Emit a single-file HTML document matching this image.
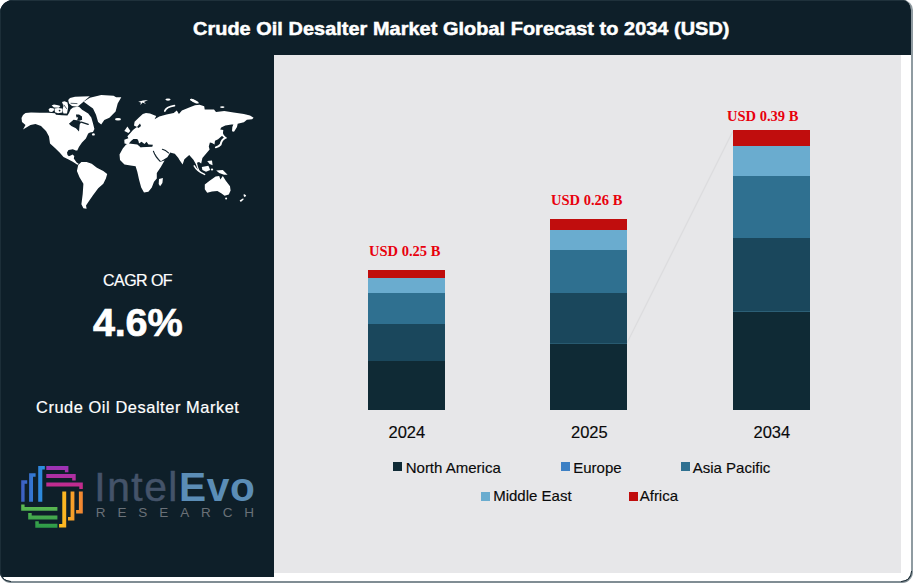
<!DOCTYPE html>
<html>
<head>
<meta charset="utf-8">
<title>Crude Oil Desalter Market Global Forecast to 2034 (USD)</title>
<style>
html,body{margin:0;padding:0;background:#fff;}
body{width:913px;height:583px;overflow:hidden;position:relative;font-family:"Liberation Sans",sans-serif;}
#card{position:absolute;left:0;top:0;width:911px;height:581px;background:#fff;border-radius:13px 10px 11px 11px;overflow:hidden;
  border-right:2px solid #8f9ba1;border-bottom:2px solid #808d94;}
.arc{position:absolute;width:10px;height:10px;box-sizing:border-box;}
#dark{position:absolute;left:0;top:0;width:274px;height:577px;background:#0e1f29;}
#head{position:absolute;left:0;top:0;width:911px;height:55px;background:#0e1f29;}
#plot{position:absolute;left:274px;top:55px;width:627px;height:518px;background:#e7e7e9;}
.abs{position:absolute;white-space:nowrap;}
#title{left:193.3px;top:17.2px;color:#fff;font-weight:bold;font-size:18.5px;line-height:24px;letter-spacing:0.05px;-webkit-text-stroke:0.5px #fff;transform-origin:0 0;transform:scaleX(1.0745);}
.seg{position:absolute;}
.val{position:absolute;white-space:nowrap;font-family:"Liberation Serif",serif;font-weight:bold;color:#e8000d;font-size:14.5px;line-height:16px;}
.yr{position:absolute;white-space:nowrap;color:#0a0a0a;-webkit-text-stroke:0.15px #0a0a0a;font-size:16.5px;line-height:18px;}
.lg{position:absolute;white-space:nowrap;color:#0a0a0a;font-size:15px;line-height:16px;-webkit-text-stroke:0.15px #0a0a0a;}
.sw{position:absolute;width:8.5px;height:8.5px;}
</style>
</head>
<body>
<div id="card">
  <div id="head"></div>
  <div id="dark"></div>
  <div id="plot"></div>
  <div class="abs" style="left:0;top:0;width:911px;height:1px;background:#1f313b"></div>
  <div class="abs" style="left:0;top:0;width:1px;height:577px;background:#1c2e38"></div>

  <div id="title" class="abs">Crude Oil Desalter Market Global Forecast to 2034 (USD)</div>


  <!-- world map -->
  <svg class="abs" id="map" style="left:0;top:0" width="274" height="230" viewBox="0 0 274 230">
    <g fill="#fff" stroke="none">
      <!-- North America -->
      <polygon points="21.5,118 23,115 25.5,113 31,112.6 40,112.8 48,112.8 55,113.2 56,114.8 62,115.2 67.4,115.4 69,113 70.5,109.5 73,107.5 77.4,106.7 79,106.7 82.1,109.8 88.2,113.6 91.3,117.5 92.9,122.9 94.4,129.1 93,132 90,132.5 88.2,133.5 85.9,138.5 82,142.4 78.9,147 77.3,150.5 75.8,150.5 72.8,149.3 68.5,150.1 67,152.4 67.5,155 68.9,156.3 71.2,155.2 72.5,154.5 74.3,156 73.8,158.4 76.6,162.4 78.9,164 77.4,164.7 72.8,161.7 68.1,159.3 63.5,157 59.6,152.4 55,148.1 50,143.5 49,136.5 46,131 41,126 35.5,124 30.5,125 23,129.5 25.5,125 22,122"/>
      <polygon points="48.5,109.5 50,108 53.5,108.2 54.3,110 52,112 49.5,111.8"/>
      <polygon points="51.6,105.5 54,104.6 58,105.2 60.4,106 59,107.8 54,107.6"/>
      <polygon points="54.5,108.4 58,107.9 62,108.6 62.4,112.4 58,113.3 55,112.2"/>
      <polygon points="62,102 64.5,101.3 67.5,102.5 68.2,107 67,113.4 63.5,113.6 62.3,110 63.5,106"/>
      <polygon points="68.2,100 70,98 75,96.8 82,96.4 89.8,96.2 86,99.5 82,103 79,105.5 77.4,106.7 72,106 69,103.5"/>
      <ellipse cx="93.4" cy="134.4" rx="1.4" ry="1.2"/>
      <!-- Greenland -->
      <polygon points="83.7,101.8 89.9,97.7 101.2,95.1 113.6,95.7 116.1,97.2 121.3,97.2 117.7,103.4 115.6,111.6 109.4,117.8 104.3,119.9 101.2,124.5 98.1,121.9 96,114.7 93,108.5 88.8,105.4"/>
      <!-- South America -->
      <polygon points="78.2,165.1 81.4,161.9 86.6,161.9 91.7,163.8 96.9,167.7 103.3,170.9 107.2,174.1 105.9,178.6 103.3,183.7 98.2,188.2 93,195.3 88.5,201.7 86,205.6 86.6,208.8 83.4,208.2 81.4,204.3 82.7,194 83.4,183.7 79.5,177.3 76.9,170.9"/>
      <!-- Eurasia -->
      <polygon points="124.5,143.4 124.3,139.8 128.4,138.3 127.4,136.2 130.4,133.1 133,130 135.5,128 137,127 134,125.4 134.6,121.8 138.7,117.7 142.8,114 146,113 150,113.5 156.2,116.1 154.6,119.2 159.3,116.6 166.5,114.6 173.7,113 176.8,110.4 178.9,114 181.9,110.4 189.2,107.4 195,105.3 199.6,104.8 204.2,106.3 204.7,109.4 214,109.4 216,112 224.3,111 233.6,112.5 243.9,114 250,115.6 253.6,117.7 252.1,119.2 246.9,119.7 243.9,122.3 237.7,123.8 237,127 234,131.8 232,131.2 232.3,127 233.4,124.6 231.5,124.4 225.3,125.4 221.2,127.4 220.2,129.5 223.3,130 222.7,135.2 218.1,139.3 215,140.8 214.5,144.4 212,143 209.9,142.4 208.8,146.5 209.6,149.6 206,153.8 202.4,158 201.2,163.4 199,162 197,162.8 198,167 200,171.8 198,170 195.8,164 193.4,159.8 189.2,155 184.4,159.2 182.6,164.6 179,159.2 178.4,158 174.8,153.8 170,152.5 169.6,153.4 167.4,157.3 160.5,161.5 153,151 140,147"/>
      <!-- Africa -->
      <polygon points="126.1,144.5 122.8,148.4 119.5,154.5 120,160.1 124.5,164.5 130.6,165.6 135.6,166.2 137.3,171.8 139,179.6 141.2,187.4 144,192.4 148.4,191.8 151.8,187.4 154,181.8 156.8,178.5 156.8,172.9 160.7,167.3 164.6,160.5 160.5,161.8 156,156 153,150 152.5,146.5 140.6,147.3 137.3,144.5 128.9,143.4"/>
      <!-- Madagascar -->
      <polygon points="159,179 162.9,177.9 162.4,182.9 160.1,186.3 158.7,184"/>
      <!-- UK, Iceland -->
      <polygon points="124.3,131 127.4,126.4 130.4,131 128.4,133.1"/>
      <ellipse cx="118" cy="119.3" rx="3" ry="1.3"/>
      <!-- Arctic islands -->
      <polygon points="138.2,101.8 143,100.6 148,100 144,102 146,104 142.5,102.5 140.5,105 140.8,102.4"/>
      <ellipse cx="168" cy="99.6" rx="2.6" ry="1.1"/>
      <ellipse cx="192.5" cy="100.2" rx="2.6" ry="1.1" transform="rotate(20 192.5 100.2)"/>
      <ellipse cx="194.5" cy="101.2" rx="4.6" ry="1.3" transform="rotate(25 194.5 101.2)"/>
      <ellipse cx="222.3" cy="107.1" rx="2.2" ry="0.9"/>
      <!-- Borneo, Philippines, New Guinea -->
      <polygon points="201.8,167 208.4,165.8 210.2,170 206,171.8 202.4,170"/>
      <polygon points="207.2,161 212,160.4 212.6,165.2 209.6,164"/>
      <polygon points="216.2,170.6 222.8,170 227.6,174.8 224,174.8 219.2,173"/>
      <ellipse cx="212" cy="169.5" rx="1.2" ry="0.9"/>
      <!-- Australia -->
      <polygon points="204.8,184.4 209.6,180.8 215.6,176.6 219.2,176 220.4,179.6 222.8,176 225.8,180.8 230,186.2 230.6,190.4 228.8,194.6 224.6,195.8 221.6,193.4 217.4,191 212,191.6 207.2,192.8 204.8,189.2"/>
      <ellipse cx="226.1" cy="198.5" rx="1" ry="1"/>
      <polygon points="243.8,194 246.2,195.2 245,197.2 243.6,196"/>
      <polygon points="239.6,200.6 243.2,198.2 243.6,199.4 240.8,202"/>
    </g>
    <g fill="none" stroke="#fff" stroke-linecap="round">
      <!-- Novaya Zemlya -->
      <path d="M164.8,111 Q166,107 174.4,105.6" stroke-width="1.8"/>
      <!-- Japan / Sakhalin -->
      <path d="M221.6,132.6 Q222.5,136 225.3,137.8 Q221.5,139.5 220.6,144.5 Q218.5,146.8 215.8,147.4" stroke-width="1.9"/>
      <!-- Sumatra / Java -->
      <path d="M194.2,165.8 Q197,171 204.6,174.4" stroke-width="1.5"/>
    </g>
    <g fill="#0e1f29" stroke="none">
      <!-- Hudson Bay -->
      <polygon points="68.9,123.7 73.6,119.8 78.2,120.6 81.3,122.1 79.7,124.4 79,131.4 75.9,128.3 71.3,126"/>
      <polygon points="75.9,114.6 79,114.4 82,116.5 82.1,119.8 79.5,120.8 77,120.6 78.2,117.2 76.5,117.5"/>
      <circle cx="59.6" cy="110.6" r="0.9"/>
      <!-- Mediterranean -->
      <polygon points="128.9,143.6 131,141 133.4,138.9 137.3,138.9 138.5,141 139,143.4 141.5,141.8 144.5,144 146.5,141.8 148.5,144.5 152.9,144.8 152.3,146.7 140.6,147.3 137.3,144.5"/>
      <!-- Baltic -->
      <polygon points="137,127 140,123.5 141,126 138.5,128"/>
    </g>
    <g fill="none" stroke="#0e1f29" stroke-linecap="round">
      <path d="M153.4,151.2 Q155.5,157.5 160.1,161.2" stroke-width="1.1"/>
      <path d="M162.4,149.3 Q165.5,150 168.5,152.8" stroke-width="1.1"/>
      <!-- arctic island channels -->
      <path d="M81.3,122.1 L88.2,124.4" stroke-width="1.4"/>
      <path d="M71,103.3 L77,103.6 M64,105 L66.5,108.5" stroke-width="0.7"/>
    </g>
  </svg>

  <!-- logo -->
  <svg class="abs" id="logo" style="left:0;top:455px" width="274" height="85" viewBox="0 455 274 85">
    <defs>
      <linearGradient id="gb" x1="0" y1="0" x2="1" y2="0"><stop offset="0" stop-color="#3e5ec2"/><stop offset="1" stop-color="#2a92e2"/></linearGradient>
      <linearGradient id="gp" x1="0" y1="0" x2="0" y2="1"><stop offset="0" stop-color="#9a34b8"/><stop offset="1" stop-color="#c92a86"/></linearGradient>
      <linearGradient id="go" x1="0" y1="0" x2="1" y2="0"><stop offset="0" stop-color="#ffc41e"/><stop offset="1" stop-color="#f08432"/></linearGradient>
      <linearGradient id="gg" x1="0" y1="0" x2="0" y2="1"><stop offset="0" stop-color="#5fba52"/><stop offset="1" stop-color="#2c9a48"/></linearGradient>
    </defs>
    <g fill="url(#gb)">
      <path d="M21.2,480.3 H27.2 V483.8 H24.6 V501.8 H21.2 Z M29.1,473.2 H35.6 V476.7 H33 V501.8 H29.1 Z M38.2,466 H44.8 V469.5 H42.3 V501.8 H38.2 Z"/>
    </g>
    <g fill="url(#gp)">
      <path d="M46.3,466 H68.4 V472.2 H64.9 V469.9 H46.3 Z M46.3,474.1 H75.7 V480.6 H72.2 V478 H46.3 Z M46.3,482.5 H82.8 V489 H79.3 V486.6 H46.3 Z"/>
    </g>
    <g fill="url(#go)">
      <path d="M62.3,491.5 H66.2 V527.5 H59.1 V524 H62.3 Z M70.6,491.5 H74.4 V520.5 H68 V517 H70.6 Z M78.9,491.5 H82.8 V513.4 H76.1 V509.9 H78.9 Z"/>
    </g>
    <g fill="url(#gg)">
      <path d="M21.2,504.6 H24.6 V506.9 H57.4 V510.8 H21.2 Z M28.2,513 H31.7 V515.6 H57.4 V519.4 H28.2 Z M35.3,521.3 H38.8 V523.7 H57.4 V527.8 H35.3 Z"/>
    </g>
  </svg>
  <div class="abs" id="lg1" style="left:94.3px;top:463.6px;font-size:40.7px;line-height:46px;letter-spacing:1.55px;color:#445369;-webkit-text-stroke:0.5px #445369;">Intel<span style="color:#5b8db6;font-weight:bold;letter-spacing:0.7px;-webkit-text-stroke:0;">Evo</span></div>
  <div class="abs" id="lg2" style="left:95.8px;top:505px;font-size:13.5px;line-height:16px;letter-spacing:11.9px;color:#6a7178;">RESEARCH</div>

  <!-- left panel text -->
  <div class="abs" id="cagr" style="left:103px;top:272.4px;color:#fff;font-size:16px;line-height:18px;letter-spacing:-0.55px;-webkit-text-stroke:0.2px #fff;">CAGR OF</div>
  <div class="abs" id="pct" style="left:93px;top:300.5px;color:#fff;font-size:39.6px;line-height:42px;font-weight:bold;letter-spacing:-0.2px;-webkit-text-stroke:0.7px #fff;">4.6%</div>
  <div class="abs" id="mkt" style="left:36px;top:397.5px;-webkit-text-stroke:0.2px #fff;color:#fff;font-size:16.4px;line-height:18px;letter-spacing:0.56px;">Crude Oil Desalter Market</div>

  <!-- trend line -->
  <svg class="abs" style="left:0;top:0" width="913" height="583"><line x1="627" y1="343" x2="733" y2="131" stroke="#dcdcde" stroke-width="1.2"/></svg>

  <!-- bar 1 -->
  <div class="seg" style="left:368px;width:77px;top:269.5px;height:8.5px;background:#c00d0d"></div>
  <div class="seg" style="left:368px;width:77px;top:278px;height:14.5px;background:#6aaccf"></div>
  <div class="seg" style="left:368px;width:77px;top:292.5px;height:31.2px;background:#2f7090"></div>
  <div class="seg" style="left:368px;width:77px;top:323.7px;height:37.3px;background:#1a475c"></div>
  <div class="seg" style="left:368px;width:77px;top:361px;height:49px;background:#0f2a35"></div>
  <!-- bar 2 -->
  <div class="seg" style="left:549.5px;width:77px;top:219px;height:11px;background:#c00d0d"></div>
  <div class="seg" style="left:549.5px;width:77px;top:230px;height:20px;background:#6aaccf"></div>
  <div class="seg" style="left:549.5px;width:77px;top:250px;height:42.5px;background:#2f7090"></div>
  <div class="seg" style="left:549.5px;width:77px;top:292.5px;height:51px;background:#1a475c"></div>
  <div class="seg" style="left:549.5px;width:77px;top:343.5px;height:66.5px;background:#0f2a35"></div>
  <!-- bar 3 -->
  <div class="seg" style="left:732.5px;width:77.5px;top:130px;height:16px;background:#c00d0d"></div>
  <div class="seg" style="left:732.5px;width:77.5px;top:146px;height:29.5px;background:#6aaccf"></div>
  <div class="seg" style="left:732.5px;width:77.5px;top:175.5px;height:62.5px;background:#2f7090"></div>
  <div class="seg" style="left:732.5px;width:77.5px;top:238px;height:73px;background:#1a475c"></div>
  <div class="seg" style="left:732.5px;width:77.5px;top:311px;height:99px;background:#0f2a35"></div>

  <div class="seg" style="left:732.5px;width:77.5px;top:310.6px;height:0.9px;background:#2c5f76"></div>
  <div class="seg" style="left:549.5px;width:77px;top:343px;height:0.8px;background:#285a70"></div>
  <div class="val" id="v1" style="left:369px;top:243px;">USD 0.25 B</div>
  <div class="val" id="v2" style="left:551px;top:192px;">USD 0.26 B</div>
  <div class="val" id="v3" style="left:727px;top:108px;">USD 0.39 B</div>

  <div class="yr" id="y1" style="left:388.5px;top:423px;">2024</div>
  <div class="yr" id="y2" style="left:571px;top:423px;">2025</div>
  <div class="yr" id="y3" style="left:753.5px;top:423px;">2034</div>

  <!-- legend -->
  <div class="sw" style="left:393px;top:462px;background:#0f2a35"></div><div class="lg" id="l1" style="margin-top:0.7px;margin-left:-0.3px;left:406px;top:459px;">North America</div>
  <div class="sw" style="left:561px;top:462px;background:#3d80c4"></div><div class="lg" id="l2" style="margin-top:0.7px;margin-left:-0.3px;left:573.5px;top:459px;">Europe</div>
  <div class="sw" style="left:681px;top:462px;background:#2f7090"></div><div class="lg" id="l3" style="margin-top:0.7px;margin-left:-0.3px;left:693px;top:459px;">Asia Pacific</div>
  <div class="sw" style="left:481px;top:492px;background:#6aaccf"></div><div class="lg" id="l4" style="margin-top:0.3px;margin-left:-0.3px;left:493.5px;top:488px;">Middle East</div>
  <div class="sw" style="left:629px;top:492px;background:#c00d0d"></div><div class="lg" id="l5" style="margin-top:0.3px;margin-left:-0.3px;left:640px;top:488px;">Africa</div>
</div>
<div class="arc" style="left:900.8px;top:570.8px;width:11px;height:11px;border-right:1.5px solid #1f2f38;border-bottom:1.5px solid #1f2f38;border-radius:0 0 10.5px 0;"></div>
<div class="arc" style="left:0px;top:570.8px;width:11px;height:11px;border-left:1.5px solid #1f2f38;border-bottom:1.5px solid #1f2f38;border-radius:0 0 0 10.5px;"></div>
</body>
</html>
